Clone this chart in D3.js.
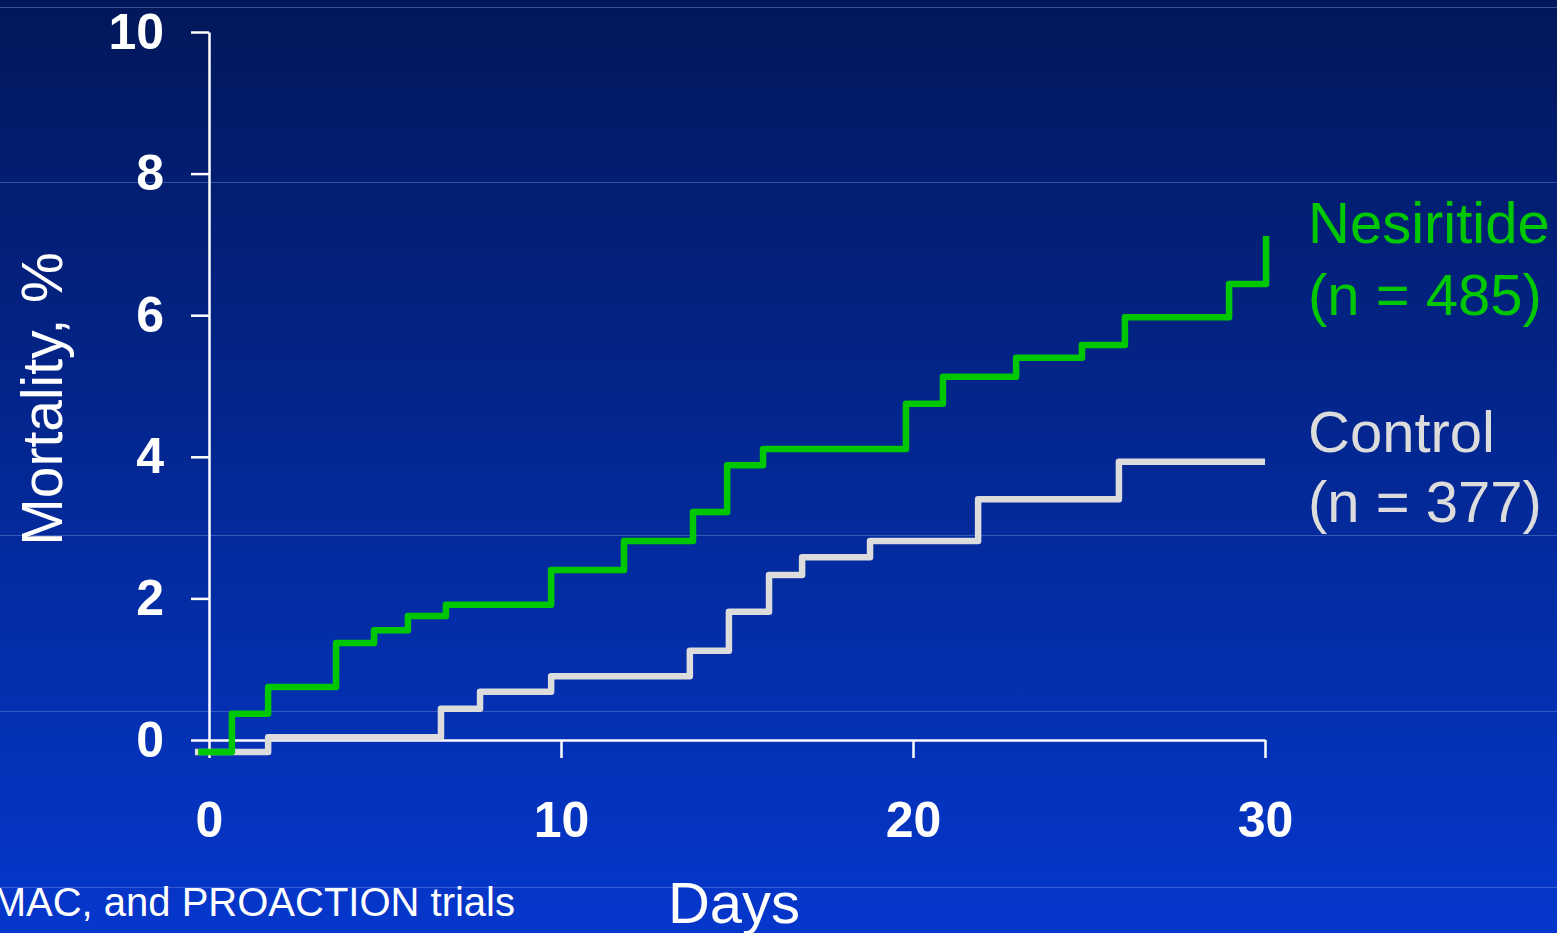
<!DOCTYPE html>
<html>
<head>
<meta charset="utf-8">
<script src="https://cdn.jsdelivr.net/npm/d3@7"></script>
<style>
  html, body { margin: 0; padding: 0; background: #03185a; overflow: hidden; }
  svg { display: block; }
  text { font-family: "Liberation Sans", Arial, sans-serif; }
</style>
</head>
<body>
<svg id="chart" width="1557" height="933"></svg>
<script>
// Cumulative 30-day mortality (%), Kaplan-Meier style step curves
const nesiritideDays   = [-0.31, 0.65, 1.68, 3.61, 4.69, 5.65, 6.73, 9.72, 11.79, 13.75, 14.72, 15.74, 19.80, 20.85, 22.93, 24.80, 26.02, 28.98, 30.03];
const nesiritideValues = [-0.17, 0.37, 0.75, 1.37, 1.55, 1.75, 1.91, 2.40, 2.81, 3.22, 3.88, 4.11, 4.75, 5.13, 5.40, 5.58, 5.97, 6.44, 7.12];

const controlDays   = [-0.40, 1.68, 6.59, 7.70, 9.72, 13.66, 14.77, 15.91, 16.85, 18.78, 21.85, 25.85, 30.0];
const controlValues = [-0.17, 0.04, 0.44, 0.68, 0.90, 1.26, 1.81, 2.33, 2.58, 2.81, 3.40, 3.93, 3.93];

const yTicks = [0, 2, 4, 6, 8, 10];
const xTicks = [0, 10, 20, 30];

const seriesLabels = [
  { name: "Control",    n: "(n = 377)", color: "#dcdcdc" },
  { name: "Nesiritide", n: "(n = 485)", color: "#00c800" }
];

const W = 1557, H = 933;
const svg = d3.select("#chart");

// Slide backdrop: vertical blue gradient with thin template rules
const defs = svg.append("defs");
const grad = defs.append("linearGradient")
  .attr("id", "bg").attr("x1", 0).attr("y1", 0).attr("x2", 0).attr("y2", 1);
grad.append("stop").attr("offset", "0%").attr("stop-color", "#02175a");
grad.append("stop").attr("offset", "45%").attr("stop-color", "#03268e");
grad.append("stop").attr("offset", "100%").attr("stop-color", "#0537cc");
svg.append("rect").attr("width", W).attr("height", H).attr("fill", "url(#bg)");

const ruleYs = [7, 182, 535, 711, 887];
svg.append("g").selectAll("line").data(ruleYs).join("line")
  .attr("x1", 0).attr("x2", W)
  .attr("y1", d => d + 0.5).attr("y2", d => d + 0.5)
  .attr("stroke", "#5f7fd0").attr("stroke-opacity", 0.55).attr("stroke-width", 1);

// Scales
const x = d3.scaleLinear().domain([0, 30]).range([209, 1265]);
const y = d3.scaleLinear().domain([0, 10]).range([740, 32]);

// Axes
const yAxis = svg.append("g")
  .attr("transform", `translate(${x(0)},0)`)
  .call(d3.axisLeft(y).tickValues(yTicks).tickSize(18).tickSizeOuter(0).tickPadding(27));

const xAxis = svg.append("g")
  .attr("transform", `translate(0,${y(0)})`)
  .call(d3.axisBottom(x).tickValues(xTicks).tickSize(18).tickSizeOuter(0).tickPadding(43));

[yAxis, xAxis].forEach(g => {
  g.selectAll("path.domain").attr("stroke", "#ffffff").attr("stroke-width", 2.5);
  g.selectAll(".tick line").attr("stroke", "#ffffff").attr("stroke-width", 2.5);
  g.selectAll(".tick text")
    .attr("fill", "#ffffff")
    .style("font-family", "'Liberation Sans', Arial, sans-serif")
    .style("font-weight", "bold")
    .style("font-size", "50px");
});

// Axis titles
svg.append("text")
  .attr("transform", `translate(62,399) rotate(-90)`)
  .attr("text-anchor", "middle")
  .attr("fill", "#ffffff")
  .style("font-size", "57px")
  .text("Mortality, %");

svg.append("text")
  .attr("x", 734).attr("y", 923)
  .attr("text-anchor", "middle")
  .attr("fill", "#ffffff")
  .style("font-size", "58px")
  .text("Days");

// Source note along the bottom edge
svg.append("text")
  .attr("x", 515).attr("y", 916)
  .attr("text-anchor", "end")
  .attr("fill", "#ffffff")
  .style("font-size", "40px")
  .text("Pooled NSGET, VMAC, and PROACTION trials");

// Step curves
const line = d3.line()
  .x(d => x(d[0]))
  .y(d => y(d[1]))
  .curve(d3.curveStepAfter);

const controlPts = controlDays.map((d, i) => [d, controlValues[i]]);
const nesiritidePts = nesiritideDays.map((d, i) => [d, nesiritideValues[i]]);

svg.append("path")
  .datum(controlPts)
  .attr("d", line)
  .attr("fill", "none")
  .attr("stroke", seriesLabels[0].color)
  .attr("stroke-width", 6.5)
  .attr("stroke-linejoin", "round");

svg.append("path")
  .datum(nesiritidePts)
  .attr("d", line)
  .attr("fill", "none")
  .attr("stroke", seriesLabels[1].color)
  .attr("stroke-width", 6.5)
  .attr("stroke-linejoin", "round");

// Series labels at the right end of each curve
const labelBaselines = { "Nesiritide": [243, 315], "Control": [452, 522] };
seriesLabels.forEach(s => {
  const [b1, b2] = labelBaselines[s.name];
  const t = svg.append("text")
    .attr("fill", s.color)
    .style("font-size", "58px");
  t.append("tspan").attr("x", 1308).attr("y", b1).text(s.name);
  t.append("tspan").attr("x", 1308).attr("y", b2).text(s.n);
});
</script>
</body>
</html>
